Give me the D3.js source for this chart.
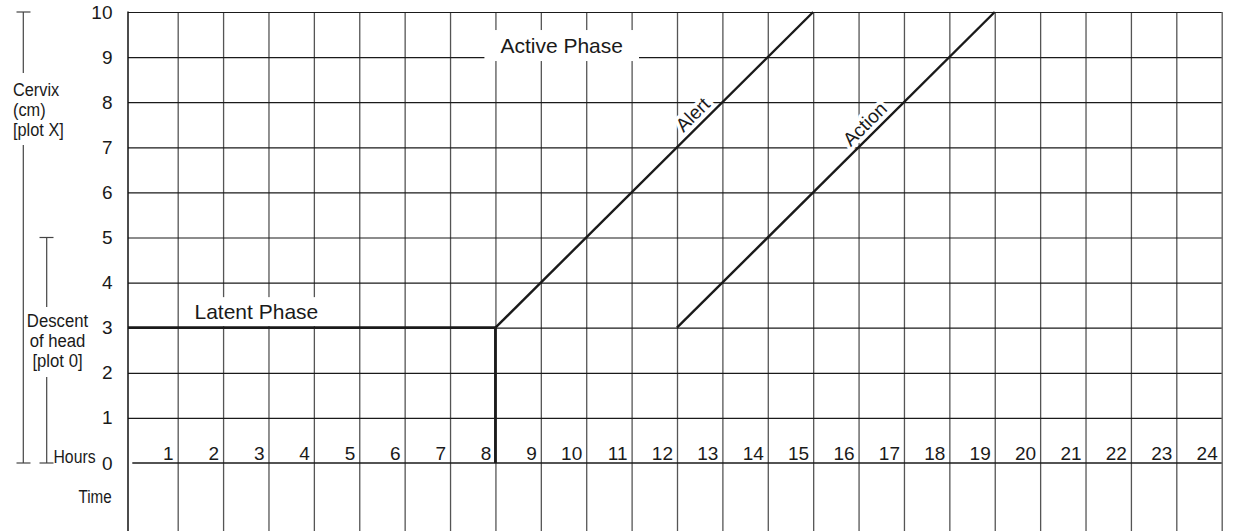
<!DOCTYPE html>
<html><head><meta charset="utf-8">
<script src="https://cdn.jsdelivr.net/npm/d3@7"></script>
<style>
html,body{margin:0;padding:0;background:#fff;}
svg{display:block;font-family:"Liberation Sans",Arial,Helvetica,sans-serif;}
</style>
</head><body>
<svg id="chart" width="1233" height="531"></svg>
<script>
// ---- data ----
const hourTicks = [1,2,3,4,5,6,7,8,9,10,11,12,13,14,15,16,17,18,19,20,21,22,23,24];
const cmTicks = [0,1,2,3,4,5,6,7,8,9,10];
const latentPhase = [[0,3],[8,3]];
const latentDrop = [[8,3],[8,0]];
const alertLine = [[8,3],[15,10]];
const actionLine = [[12,3],[19,10]];
const phaseLabels = [
  {text:"Latent Phase", h:1.37, cm:3.19, anchor:"start", padX:4, padY:3},
  {text:"Active Phase", h:9.46, cm:9.09, anchor:"middle", padX:16, padY:4}
];
const lineLabels = [
  {text:"Alert", line:alertLine, t:0.648},
  {text:"Action", line:actionLine, t:0.618}
];
const cervixLabel = ["Cervix","(cm)","[plot X]"];
const descentLabel = ["Descent","of head","[plot 0]"];
const hoursLabel = "Hours";
const timeLabel = "Time";

// ---- layout ----
const W = 1233, H = 531;
const frameLeft = 128;
const x = d3.scaleLinear().domain([0,24]).range([132.3,1221.7]);
const y = d3.scaleLinear().domain([0,10]).range([463,12]);
const ink = "#1a1a1a";

const svg = d3.select("#chart");

// vertical grid lines
const vg = svg.append("g").attr("transform",`translate(0,${y(10)})`)
  .call(d3.axisBottom(x).tickValues(hourTicks).tickSize(H - y(10)).tickFormat(""));
vg.select(".domain").remove();
vg.selectAll(".tick line").attr("stroke","#555").attr("stroke-width",1.3);

// horizontal grid lines (1..10)
const hg = svg.append("g").attr("transform",`translate(${frameLeft},0)`)
  .call(d3.axisLeft(y).tickValues(cmTicks.filter(d=>d>0)).tickSize(-(x(24)-frameLeft)).tickFormat(""));
hg.select(".domain").remove();
hg.selectAll(".tick line").attr("stroke",ink).attr("stroke-width",1.2);

// zero line
svg.append("line").attr("x1",x(0)).attr("x2",x(24)).attr("y1",y(0)).attr("y2",y(0))
  .attr("stroke",ink).attr("stroke-width",1.4);
// left frame
svg.append("line").attr("x1",frameLeft).attr("x2",frameLeft).attr("y1",y(10)-0.5).attr("y2",H)
  .attr("stroke","#111").attr("stroke-width",1.5);

// white boxes + phase labels
phaseLabels.forEach(p=>{
  const g = svg.append("g");
  const t = g.append("text").attr("x",x(p.h)).attr("y",y(p.cm))
    .attr("text-anchor",p.anchor).attr("font-size",21).attr("fill",ink).text(p.text);
  const b = t.node().getBBox();
  g.insert("rect","text").attr("x",b.x-p.padX).attr("y",b.y-p.padY)
    .attr("width",b.width+2*p.padX).attr("height",b.height+2*p.padY).attr("fill","#fff");
});

// thick lines
const line = d3.line().x(d=>x(d[0])).y(d=>y(d[1]));
svg.append("path").attr("d",`M${frameLeft},${y(latentPhase[0][1])}L${x(latentPhase[1][0])},${y(latentPhase[1][1])}`)
  .attr("stroke",ink).attr("stroke-width",2.8).attr("fill","none");
svg.append("path").attr("d",line(latentDrop)).attr("stroke",ink).attr("stroke-width",2.8).attr("fill","none");
[alertLine, actionLine].forEach(l=>{
  svg.append("path").attr("d",line(l)).attr("stroke",ink).attr("stroke-width",2.4).attr("fill","none");
});

// Alert / Action labels
lineLabels.forEach(L=>{
  const [a,b] = L.line;
  const h = a[0]+(b[0]-a[0])*L.t, c = a[1]+(b[1]-a[1])*L.t;
  const ang = Math.atan2(y(b[1])-y(a[1]), x(b[0])-x(a[0]))*180/Math.PI;
  svg.append("text").attr("transform",`translate(${x(h)},${y(c)}) rotate(${ang}) translate(0,-12)`)
    .attr("text-anchor","middle").attr("dominant-baseline","central")
    .attr("font-size",19).attr("fill",ink)
    .attr("stroke","#fff").attr("stroke-width",7).attr("stroke-linejoin","round")
    .attr("paint-order","stroke").text(L.text);
});

// y axis labels
const ya = svg.append("g").attr("transform","translate(112.5,0)")
  .call(d3.axisLeft(y).tickValues(cmTicks).tickSize(0).tickPadding(0));
ya.select(".domain").remove();
ya.selectAll("text").attr("font-size",19).attr("fill",ink).attr("font-family",null)
  .attr("dy","0.32em").attr("x",0);
ya.attr("font-family",null);

// x axis labels
const xa = svg.append("g").attr("transform",`translate(0,${y(0)})`)
  .call(d3.axisBottom(x).tickValues(hourTicks).tickSize(0));
xa.select(".domain").remove();
xa.attr("font-family",null);
xa.selectAll("text").attr("font-size",19).attr("fill",ink).attr("text-anchor","end")
  .attr("x",-4.5).attr("y",-3).attr("dy",0);

// left annotations
const bracketColor = "#444";
function bracket(bx, y0, y1, gapTop, gapBot, capL, capR){
  const g = svg.append("g").attr("stroke",bracketColor).attr("stroke-width",1.2);
  g.append("line").attr("x1",bx).attr("x2",bx).attr("y1",y0).attr("y2",gapTop);
  g.append("line").attr("x1",bx).attr("x2",bx).attr("y1",gapBot).attr("y2",y1);
  g.append("line").attr("x1",capL).attr("x2",capR).attr("y1",y0).attr("y2",y0);
  g.append("line").attr("x1",capL).attr("x2",capR).attr("y1",y1).attr("y2",y1);
}
function condensed(txt, tx, ty, anchor, sx, size){
  return svg.append("text").attr("transform",`translate(${tx},${ty}) scale(${sx},1)`)
    .attr("text-anchor",anchor).attr("font-size",size).attr("fill",ink).text(txt);
}
cervixLabel.forEach((s,i)=>condensed(s,13,96+i*20,"start",0.86,19));
descentLabel.forEach((s,i)=>condensed(s,57.5,326.5+i*20,"middle",0.88,19));
bracket(23.3, y(10), y(0), 73, 145, 16.5, 30.5);
bracket(46.7, y(5), y(0), 307, 377, 39.5, 53.5);
condensed(hoursLabel,53.5,y(0),"start",0.83,19);
condensed(timeLabel,111.7,503,"end",0.8,19);
</script>
</body></html>
